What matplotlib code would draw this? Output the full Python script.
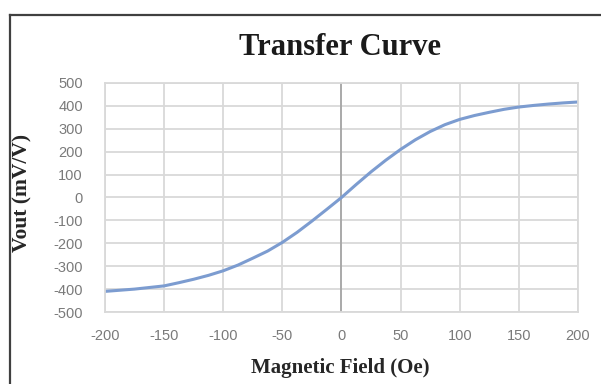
import matplotlib
matplotlib.use("Agg")
import matplotlib.pyplot as plt
from matplotlib.lines import Line2D

# Data
field_oe = [-200, -187.5, -175, -162.5, -150, -137.5, -125, -112.5, -100, -87.5, -75, -62.5,
            -50, -37.5, -25, -12.5, 0, 12.5, 25, 37.5, 50, 62.5, 75, 87.5, 100, 112.5,
            125, 137.5, 150, 162.5, 175, 187.5, 200]
vout_mv = [-410, -405, -400, -393, -386, -372, -357, -340, -320, -295, -265, -234,
           -196, -152, -103, -52, 0, 57, 112, 163, 210, 252, 288, 318, 341, 358,
           372, 385, 395, 402, 408, 413, 417]
x_ticks = [-200, -150, -100, -50, 0, 50, 100, 150, 200]
y_ticks = [-500, -400, -300, -200, -100, 0, 100, 200, 300, 400, 500]

title = "Transfer Curve"
xlabel = "Magnetic Field (Oe)"
ylabel = "Vout (mV/V)"

fig = plt.figure(figsize=(6.01, 3.84), dpi=100)
ax = fig.add_axes([0.1747, 0.1875, 0.9617 - 0.1747, 0.7839 - 0.1875])

ax.plot(field_oe, vout_mv, color="#7c9cd0", lw=2.2, solid_capstyle="round",
        solid_joinstyle="round")
ax.axvline(0, color="#a6a6a6", lw=1.3, zorder=1)

ax.set_xlim(-200, 200)
ax.set_ylim(-500, 500)
ax.set_xticks(x_ticks)
ax.set_yticks(y_ticks)
ax.set_xticklabels([str(v) for v in x_ticks])
ax.set_yticklabels([str(v) for v in y_ticks])
ax.grid(True, color="#d9d9d9", lw=1.3, zorder=0)
ax.set_axisbelow(True)
for s in ax.spines.values():
    s.set_color("#d9d9d9")
    s.set_linewidth(1.3)
ax.tick_params(length=0, labelsize=10.5, labelcolor="#7a7a7a")
ax.tick_params(axis="x", pad=12)
ax.tick_params(axis="y", pad=16)
for lbl in ax.get_xticklabels() + ax.get_yticklabels():
    lbl.set_family("Liberation Sans")

fig.text(0.566, 0.877, title, ha="center", va="center",
         family="Liberation Serif", fontweight="bold", fontsize=22, color="#1a1a1a")
fig.text(0.566, 0.042, xlabel, ha="center", va="center",
         family="Liberation Serif", fontweight="bold", fontsize=15, color="#262626")
fig.text(0.037, 0.497, ylabel, ha="center", va="center", rotation=90,
         family="Liberation Serif", fontweight="bold", fontsize=15.5, color="#262626")

# outer frame (top and left edges)
fig.add_artist(Line2D([10 / 601, 1.0], [1 - 15 / 384, 1 - 15 / 384],
                      transform=fig.transFigure, color="#404040", lw=1.6))
fig.add_artist(Line2D([10 / 601, 10 / 601], [0.0, 1 - 15 / 384],
                      transform=fig.transFigure, color="#404040", lw=1.6))

fig.savefig("out.png", dpi=100)
